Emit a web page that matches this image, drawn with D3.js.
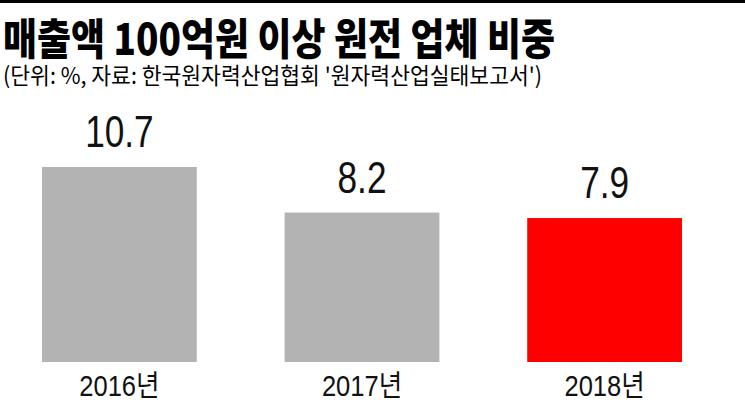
<!DOCTYPE html>
<html>
<head>
<meta charset="utf-8">
<script src="https://cdn.jsdelivr.net/npm/d3@7"></script>
<style>
  body { margin: 0; background: #fff; }
  svg { display: block; }
</style>
</head>
<body>
<div id="chart"></div>
<script>
// Data
var years = ["2016년", "2017년", "2018년"];
var shares = [10.7, 8.2, 7.9];
var barColors = ["#b3b3b3", "#b3b3b3", "#ff0000"];

var titleText = "매출액 100억원 이상 원전 업체 비중";
var subtitleText = "(단위: %, 자료: 한국원자력산업협회 '원자력산업실태보고서')";

var width = 745,
    height = 402;

var svg = d3.select("#chart").append("svg")
  .attr("width", width)
  .attr("height", height);

// top rule
svg.append("rect")
  .attr("x", 0).attr("y", 0)
  .attr("width", width).attr("height", 3)
  .attr("fill", "#000");

// title + source line
svg.append("text")
  .attr("x", 3).attr("y", 55)
  .attr("textLength", 552)
  .attr("lengthAdjust", "spacingAndGlyphs")
  .style("font-family", "'Noto Sans CJK KR', sans-serif")
  .style("font-weight", 900)
  .style("font-size", "43px")
  .attr("fill", "#000")
  .text(titleText);

svg.append("text")
  .attr("x", 3).attr("y", 84)
  .attr("textLength", 539)
  .attr("lengthAdjust", "spacingAndGlyphs")
  .style("font-family", "'Noto Sans CJK KR', sans-serif")
  .style("font-size", "23px")
  .attr("fill", "#000")
  .text(subtitleText);

// scales
var x = d3.scaleBand()
  .domain(years)
  .range([42, 682])
  .paddingInner(0.362)
  .paddingOuter(0);

var y = d3.scaleLinear()
  .domain([0, 10.7])
  .range([362, 167]);

var data = years.map(function(d, i) {
  return { year: d, value: shares[i], color: barColors[i] };
});

var bars = svg.selectAll(".bar").data(data);

bars.enter().append("rect")
  .attr("class", "bar")
  .attr("x", function(d) { return x(d.year); })
  .attr("y", function(d) { return y(d.value); })
  .attr("width", x.bandwidth())
  .attr("height", function(d) { return y(0) - y(d.value); })
  .attr("fill", function(d) { return d.color; });

// value labels (squeezed horizontally like the condensed face in the original)
svg.selectAll(".val").data(data).enter().append("text")
  .attr("class", "val")
  .attr("transform", function(d) {
    return "translate(" + (x(d.year) + x.bandwidth() / 2) + "," + (y(d.value) - 20) + ") scale(0.8,1)";
  })
  .attr("text-anchor", "middle")
  .style("font-family", "'Liberation Sans', Arial, sans-serif")
  .style("font-size", "44px")
  .attr("fill", "#111")
  .text(function(d) { return d.value.toFixed(1); });

// category labels
var xAxis = d3.axisBottom(x).tickSize(0).tickPadding(0);
var gx = svg.append("g")
  .attr("transform", "translate(0," + 362 + ")")
  .call(xAxis);
gx.select(".domain").remove();
gx.selectAll(".tick text")
  .attr("dy", null)
  .attr("y", null)
  .attr("transform", "translate(0,34) scale(0.88,1)")
  .style("font-family", "'Liberation Sans', 'Noto Sans CJK KR', sans-serif")
  .style("font-size", "29px")
  .attr("fill", "#111");
</script>
</body>
</html>
